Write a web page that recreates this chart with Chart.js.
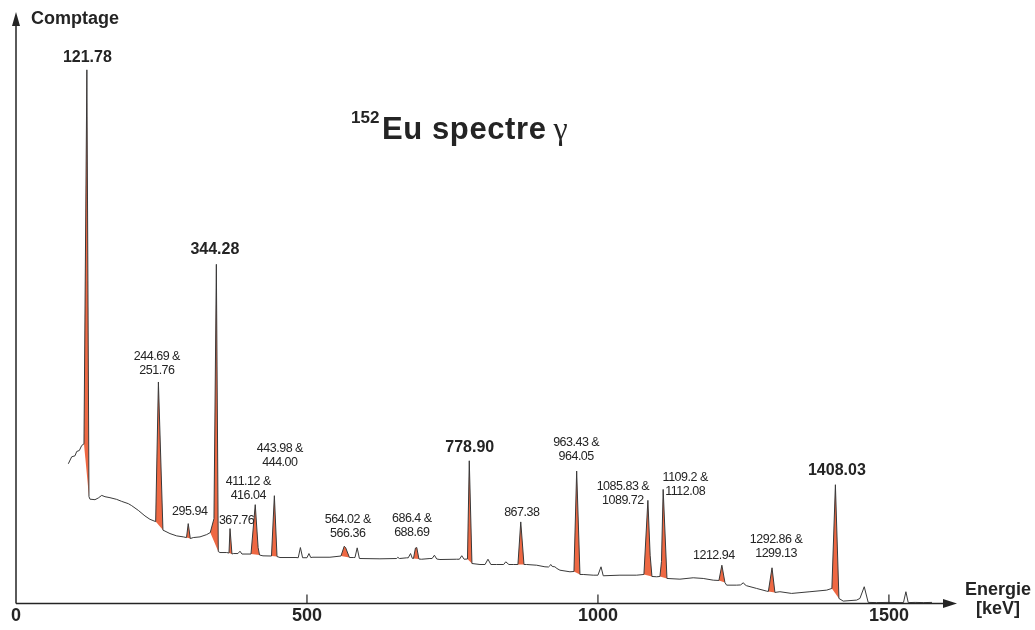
<!DOCTYPE html>
<html>
<head>
<meta charset="utf-8">
<title>152Eu spectre gamma</title>
<script src="https://cdn.jsdelivr.net/npm/chart.js@4.4.1/dist/chart.umd.min.js"></script>
<style>
  html, body { margin: 0; padding: 0; background: #fff; }
  #spectrum { display: block; }
</style>
</head>
<body>
<canvas id="spectrum" width="1035" height="630"></canvas>
<script>
// measured spectrum: energy (keV) and counts (arbitrary units)
const energies = [
    89.9, 95.7, 101.4, 104.3, 108.8, 112.9, 116.8, 121.78, 125.4, 127.1,
    135.7, 141.4, 147.3, 152.9, 161.5, 173.0, 181.6, 193.0, 198.8, 210.1,
    221.6, 230.2, 240.0, 244.69, 252.5, 264.6, 276.1, 287.5, 293.0, 295.94,
    299.5, 304.6, 316.2, 327.7, 333.8, 340.2, 344.28, 347.6, 350.5, 362.0,
    366.0, 367.76, 371.1, 373.4, 381.4, 384.9, 388.3, 403.8, 411.12, 416.04,
    418.5, 424.4, 439.0, 443.98, 448.5, 453.6, 481.1, 485.0, 488.7, 492.5,
    500.0, 503.4, 506.5, 510.3, 539.5, 558.4, 564.02, 566.36, 573.0, 579.5,
    582.5, 586.3, 590.0, 591.1, 625.4, 654.1, 656.0, 659.0, 671.3, 674.0,
    678.0, 681.0, 683.0, 686.4, 688.69, 692.4, 697.1, 711.3, 715.0, 719.0,
    723.0, 728.5, 757.2, 762.0, 766.0, 770.0, 775.8, 778.9, 783.5, 797.3,
    806.0, 811.0, 816.0, 826.0, 838.0, 841.6, 847.0, 854.5, 862.5, 867.38,
    872.9, 877.5, 894.7, 908.9, 915.0, 919.3, 921.5, 926.0, 929.5, 934.7,
    951.9, 958.8, 963.43, 969.1, 974.7, 991.9, 1000.0, 1005.3, 1009.1, 1037.8,
    1066.5, 1079.0, 1085.83, 1089.72, 1092.8, 1100.9, 1106.5, 1109.2, 1112.08, 1118.6,
    1140.9, 1163.7, 1180.9, 1198.1, 1207.9, 1212.94, 1218.2, 1221.1, 1238.3, 1245.0,
    1249.9, 1253.0, 1255.5, 1272.7, 1289.9, 1292.86, 1299.13, 1304.1, 1312.7, 1332.8,
    1364.3, 1393.0, 1402.0, 1408.03, 1414.1, 1421.5, 1444.5, 1450.2, 1457.6, 1464.4,
    1478.9, 1500.0, 1519.0, 1525.0, 1529.2, 1533.2, 1545.0, 1560.0, 1574.0
];
const counts = [
    1400, 1470, 1480, 1523, 1533, 1583, 1600, 5350, 1070, 1045,
    1040, 1057, 1083, 1070, 1060, 1043, 1023, 1000, 980, 933,
    877, 843, 820, 2220, 735, 700, 677, 667, 660, 800,
    650, 660, 667, 690, 710, 850, 3400, 520, 510, 510,
    505, 750, 495, 500, 500, 523, 495, 495, 990, 560,
    485, 477, 475, 1080, 470, 460, 460, 458, 560, 458,
    458, 500, 460, 463, 463, 475, 573, 560, 460, 460,
    460, 557, 452, 450, 447, 450, 462, 450, 457, 457,
    500, 452, 450, 555, 560, 445, 443, 450, 450, 483,
    445, 440, 443, 443, 478, 443, 445, 1430, 400, 390,
    390, 443, 390, 390, 390, 417, 390, 390, 390, 817,
    390, 390, 383, 367, 365, 390, 370, 367, 350, 333,
    317, 320, 1327, 290, 290, 283, 283, 367, 277, 283,
    283, 290, 1033, 483, 270, 267, 270, 420, 1143, 250,
    243, 257, 250, 233, 230, 383, 210, 183, 183, 185,
    207, 185, 177, 150, 123, 120, 357, 110, 117, 100,
    117, 133, 150, 1190, 50, 23, 33, 50, 167, 10,
    8, 10, 8, 8, 117, 8, 10, 8, 10
];

// identified lines and the energy span of each shaded peak
const peakTexts = [
    '121.78', '244.69 &\n251.76', '295.94', '344.28', '367.76',
    '411.12 &\n416.04', '443.98 &\n444.00', '564.02 &\n566.36', '686.4 &\n688.69', '778.90',
    '867.38', '963.43 &\n964.05', '1085.83 &\n1089.72', '1109.2 &\n1112.08', '1212.94',
    '1292.86 &\n1299.13', '1408.03'
];
const peakFrom = [116.8, 240.0, 293.0, 333.8, 366.0, 403.8, 439.0, 558.4, 683.0, 775.8,
    862.5, 958.8, 1079.0, 1106.5, 1207.9, 1292.86, 1402.0];
const peakTo = [125.4, 252.5, 299.5, 347.6, 371.1, 418.5, 448.5, 573.0, 692.4, 783.5,
    872.9, 969.1, 1092.8, 1118.6, 1218.2, 1304.1, 1414.1];

const xTicks = [0, 500, 1000, 1500];

// label styling
const strongPeaks = ['121.78', '344.28', '778.90', '1408.03'];
const labelShift = [
    [0.5, -12.5], [-1.5, -11], [1.5, -12.5], [-1.5, -15], [6.5, -8.5],
    [-7, -9], [5.5, -33], [3.5, -12.7], [-5, -15], [0.5, -13],
    [1, -9.5], [-0.5, -15], [-25, 0], [22, 2], [-8, -10],
    [4, -14], [1.5, -14]
];

const ink = '#242424';
const orange = '#ee6843';
const sans = '"Liberation Sans", Arial, Helvetica, sans-serif';

const spectrum = energies.map((e, i) => ({ x: e, y: counts[i] }));

function peakPoints(k) {
    return spectrum.filter(p => p.x >= peakFrom[k] && p.x <= peakTo[k]);
}

const peakSets = peakTexts.map((t, k) => ({
    data: peakPoints(k),
    borderWidth: 0,
    borderColor: 'transparent',
    backgroundColor: orange,
    fill: 'shape',
    pointRadius: 0,
}));

const decorations = {
    id: 'decorations',
    afterDatasetsDraw(chart) {
        const { ctx, chartArea: a, scales: { x, y } } = chart;
        const x0 = x.getPixelForValue(0);
        const y0 = y.getPixelForValue(0);
        ctx.save();
        ctx.strokeStyle = ink;
        ctx.fillStyle = ink;

        // axes with arrow heads
        ctx.lineWidth = 1.5;
        ctx.beginPath();
        ctx.moveTo(x0, y0);
        ctx.lineTo(a.right - 12, y0);
        ctx.moveTo(x0, y0);
        ctx.lineTo(x0, a.top + 12);
        ctx.stroke();
        ctx.beginPath();
        ctx.moveTo(a.right, y0);
        ctx.lineTo(a.right - 14, y0 - 4.5);
        ctx.lineTo(a.right - 14, y0 + 4.5);
        ctx.closePath();
        ctx.moveTo(x0, a.top);
        ctx.lineTo(x0 - 4, a.top + 14);
        ctx.lineTo(x0 + 4, a.top + 14);
        ctx.closePath();
        ctx.fill();

        ctx.lineWidth = 1.2;
        ctx.beginPath();
        xTicks.slice(1).forEach(v => {
            const px = x.getPixelForValue(v);
            ctx.moveTo(px, y0);
            ctx.lineTo(px, y0 - 9);
        });
        ctx.stroke();

        // axis names
        ctx.textBaseline = 'middle';
        ctx.font = `bold 18px ${sans}`;
        ctx.textAlign = 'left';
        ctx.fillText('Comptage', 31, 19.5);
        ctx.textAlign = 'center';
        ctx.fillText('Energie', 998, 590);
        ctx.fillText('[keV]', 998, 609);

        // peak labels
        peakTexts.forEach((text, k) => {
            const top = peakPoints(k).reduce((m, p) => (p.y > m.y ? p : m));
            const px = x.getPixelForValue(top.x) + labelShift[k][0];
            const py = y.getPixelForValue(top.y) + labelShift[k][1];
            const lines = text.split('\n');
            if (strongPeaks.includes(text)) {
                ctx.font = `bold 16px ${sans}`;
                ctx.letterSpacing = '0px';
            } else {
                ctx.font = `12.5px ${sans}`;
                ctx.letterSpacing = '-0.5px';
            }
            lines.forEach((line, i) => {
                ctx.fillText(line, px, py - 14 * (lines.length - 1 - i));
            });
        });

        // title
        ctx.letterSpacing = '0px';
        ctx.textAlign = 'left';
        ctx.textBaseline = 'alphabetic';
        ctx.font = `bold 17px ${sans}`;
        ctx.fillText('152', 351, 123);
        ctx.font = `bold 31px ${sans}`;
        ctx.letterSpacing = '0.6px';
        ctx.fillText('Eu spectre', 382, 138.5);
        const w = ctx.measureText('Eu spectre').width;
        ctx.letterSpacing = '0px';
        ctx.font = `32px "Liberation Serif", "Times New Roman", serif`;
        ctx.fillText('γ', 382 + w + 7, 138.5);
        ctx.restore();
    }
};

const chart = new Chart(document.getElementById('spectrum'), {
    type: 'line',
    data: {
        datasets: [{
            data: spectrum,
            borderColor: '#3a3a3a',
            borderWidth: 1,
            fill: false,
            pointRadius: 0,
        }, ...peakSets]
    },
    options: {
        responsive: false,
        animation: false,
        devicePixelRatio: 1,
        layout: { padding: { left: 16, right: 78, top: 12, bottom: 1 } },
        elements: { line: { tension: 0 } },
        plugins: { legend: { display: false }, tooltip: { enabled: false } },
        scales: {
            x: {
                type: 'linear',
                min: 0,
                max: 1617,
                grid: { display: false, drawTicks: false },
                border: { display: false },
                afterBuildTicks: s => { s.ticks = xTicks.map(v => ({ value: v })); },
                ticks: {
                    color: ink,
                    padding: 2,
                    autoSkip: false,
                    maxRotation: 0,
                    font: { family: sans, size: 18, weight: 'bold' },
                    callback: v => String(v)
                }
            },
            y: { display: false, min: 0, max: 5930 }
        }
    },
    plugins: [decorations]
});
</script>
</body>
</html>
